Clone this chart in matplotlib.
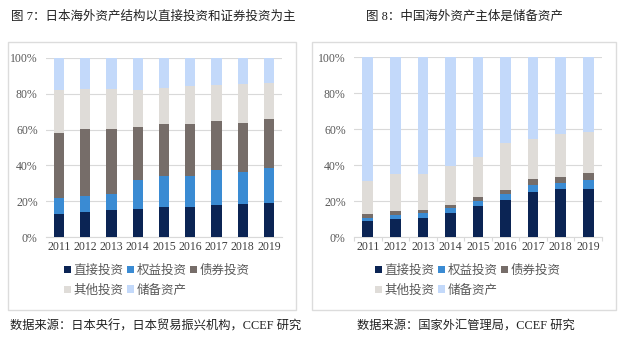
import matplotlib
matplotlib.use("Agg")
import matplotlib.pyplot as plt
from matplotlib.patches import Rectangle, Patch
import numpy as np

plt.rcParams['font.family'] = ['Liberation Serif', 'Noto Sans CJK SC', 'DejaVu Sans']

years = ['2011', '2012', '2013', '2014', '2015', '2016', '2017', '2018', '2019']
series_names = ['直接投资', '权益投资', '债券投资', '其他投资', '储备资产']
colors = ['#0b2454', '#3a8bd3', '#766d69', '#dfdcd8', '#c3d9fa']

# Japan (%)
jp_direct = [13.0, 13.8, 15.0, 15.6, 16.7, 16.7, 17.8, 18.4, 19.0]
jp_equity = [9.0, 9.2, 9.3, 16.4, 17.1, 17.5, 19.4, 18.0, 19.7]
jp_bond = [36.0, 37.4, 36.1, 29.7, 29.2, 29.0, 27.5, 27.4, 27.3]
jp_other = [24.0, 22.3, 22.3, 20.6, 20.3, 21.4, 20.4, 21.7, 20.2]
jp_reserve = [18.0, 17.3, 17.3, 17.7, 16.7, 15.4, 14.9, 14.5, 13.8]

# China (%)
cn_direct = [8.9, 10.0, 10.7, 13.3, 17.4, 20.4, 25.0, 26.7, 26.9]
cn_equity = [1.7, 2.2, 2.6, 2.6, 2.8, 3.3, 4.1, 3.5, 5.0]
cn_bond = [2.2, 2.2, 1.5, 1.7, 1.8, 2.6, 2.9, 3.1, 3.5]
cn_other = [18.1, 20.4, 20.2, 21.8, 22.3, 25.9, 22.3, 23.7, 22.7]
cn_reserve = [69.1, 65.2, 65.0, 60.6, 55.7, 47.8, 45.7, 43.0, 41.9]

W, H = 630, 345
fig = plt.figure(figsize=(W / 100, H / 100), dpi=100)


def fx(x):
    return x / W


def fy(y):
    return 1 - y / H


def panel(box, ax_rect, data, legend_x, title, title_x, title_ha, source,
          source_x, boundary_ticks):
    x0, y0, x1, y1 = box
    fig.patches.append(Rectangle((fx(x0), fy(y1)), fx(x1 - x0), (y1 - y0) / H,
                                 transform=fig.transFigure, fill=False,
                                 edgecolor='#dcdcdc', linewidth=1.0))
    ax0, ay0, ax1, ay1 = ax_rect
    ax = fig.add_axes([fx(ax0), fy(ay1), fx(ax1 - ax0), (ay1 - ay0) / H])
    x = np.arange(len(years))
    bottom = np.zeros(len(years))
    for vals, c in zip(data, colors):
        v = np.array(vals, dtype=float)
        ax.bar(x, v, width=0.39, bottom=bottom, color=c, zorder=3)
        bottom += v
    ax.set_xlim(-0.5, len(years) - 0.5)
    ax.set_ylim(0, 100)
    ax.set_yticks([0, 20, 40, 60, 80, 100])
    ax.set_yticklabels([f'{t}%' for t in [0, 20, 40, 60, 80, 100]])
    ax.set_xticks(x)
    ax.set_xticklabels(years)
    if boundary_ticks:
        ax.set_xticks(np.arange(len(years) + 1) - 0.5, minor=True)
        ax.tick_params(axis='x', which='minor', length=3, width=0.8,
                       color='#d9d9d9')
    ax.grid(axis='y', color='#d9d9d9', linewidth=0.8, zorder=0)
    for s in ['top', 'right', 'left']:
        ax.spines[s].set_visible(False)
    ax.spines['bottom'].set_color('#d9d9d9')
    ax.tick_params(axis='y', length=0, labelsize=8.5, labelcolor='#595959', pad=6)
    ax.tick_params(axis='x', which='major', length=0, labelsize=8.5,
                   labelcolor='#404040', pad=3)
    order = [0, 3, 1, 4, 2]
    handles = [Patch(facecolor=colors[i], edgecolor='none') for i in order]
    labels = [series_names[i] for i in order]
    fig.legend(handles, labels, ncol=3, loc='upper left',
               bbox_to_anchor=(fx(legend_x), fy(265)), frameon=False,
               fontsize=9, handlelength=0.55, handleheight=0.55,
               handletextpad=0.2, columnspacing=0.3, labelspacing=0.6,
               borderpad=0, borderaxespad=0, labelcolor='#595959')
    fig.text(fx(title_x), fy(17), title, ha=title_ha, va='center',
             fontsize=9, color='#222222')
    fig.text(fx(source_x), fy(326), source, ha='left', va='center',
             fontsize=8.8, color='#222222')


panel((8, 42, 296, 310), (46, 58, 282, 237),
      [jp_direct, jp_equity, jp_bond, jp_other, jp_reserve], 64,
      '图 7：日本海外资产结构以直接投资和证券投资为主', 11, 'left',
      '数据来源：日本央行，日本贸易振兴机构，CCEF 研究', 10, False)
panel((312, 42, 616, 310), (354, 57, 602, 237),
      [cn_direct, cn_equity, cn_bond, cn_other, cn_reserve], 375,
      '图 8：中国海外资产主体是储备资产', 464, 'center',
      '数据来源：国家外汇管理局，CCEF 研究', 357, True)

fig.savefig('out.png', dpi=100)
